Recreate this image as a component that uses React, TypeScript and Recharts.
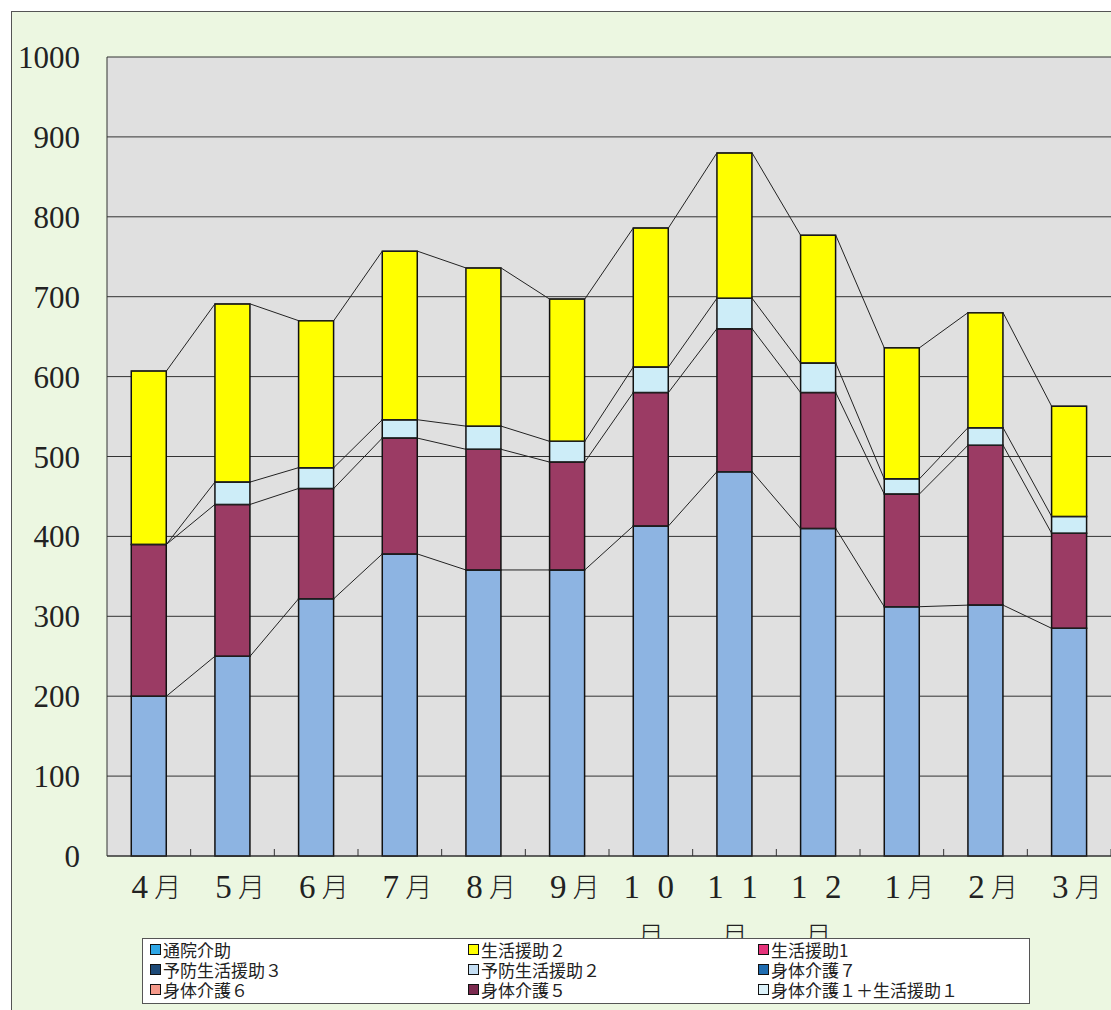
import { Bar, CartesianGrid, ComposedChart, Line, XAxis, YAxis } from "recharts";

const months = ["4月", "5月", "6月", "7月", "8月", "9月", "10月", "11月", "12月", "1月", "2月", "3月"];
const shintai = [200, 250, 322, 378, 358, 358, 413, 481, 410, 312, 314, 285];
const shintai5 = [190, 190, 138, 145, 151, 135, 167, 179, 170, 141, 200, 119];
const shintai1Seikatsu1 = [0, 28, 26, 23, 29, 26, 32, 38, 37, 19, 22, 21];
const seikatsu2 = [217, 223, 184, 211, 198, 178, 174, 182, 160, 164, 144, 138];
const yTicks = [0, 100, 200, 300, 400, 500, 600, 700, 800, 900, 1000];

const legendItems = [
    { name: "通院介助", color: "#2ea6e6" },
    { name: "生活援助２", color: "#ffff00" },
    { name: "生活援助1", color: "#e5327a" },
    { name: "予防生活援助３", color: "#1d4a78" },
    { name: "予防生活援助２", color: "#c4def4" },
    { name: "身体介護７", color: "#1f6cb0" },
    { name: "身体介護６", color: "#f5998a" },
    { name: "身体介護５", color: "#7b2a4f" },
    { name: "身体介護１＋生活援助１", color: "#dcf2fa" },
];

const series = [
    { key: "s1", name: "身体介護", values: shintai, color: "#8db4e2" },
    { key: "s2", name: "身体介護５", values: shintai5, color: "#9b3b64" },
    { key: "s3", name: "身体介護１＋生活援助１", values: shintai1Seikatsu1, color: "#cdedf8" },
    { key: "s4", name: "生活援助２", values: seikatsu2, color: "#ffff00" },
];

const data = months.map((m, i) => {
    const row: Record<string, any> = { month: m };
    series.forEach(s => { row[s.key] = s.values[i]; });
    return row;
});

// series lines: from each bar's top corners to the next bar (half bar width in category units)
const HALF = 0.21;
const seriesLines = series.map((s, k) =>
    months.flatMap((_, i) => {
        const top = series.slice(0, k + 1).reduce((sum, t) => sum + t.values[i], 0);
        return [{ x: i + 0.5 - HALF, y: top }, { x: i + 0.5 + HALF, y: top }];
    })
);

const PLOT_LEFT = 107;
const BAND = (1111 - PLOT_LEFT) / 12;
const SERIF = "'Liberation Serif', 'DejaVu Serif', serif";
const CJK = "'Noto Sans CJK JP', sans-serif";

function MonthTick(props: any) {
    const { x, y, payload } = props;
    const v: string = payload.value;
    const num = v.replace("月", "");
    return (
        <g>
            <line x1={x + BAND / 2} x2={x + BAND / 2} y1={y} y2={y - 7} stroke="#333" />
            {num.length === 1 ? (
                <g>
                    <text x={x - 9} y={y + 42} textAnchor="middle" fill="#222" style={{ fontFamily: SERIF, fontSize: 33 }}>{num}</text>
                    <text x={x + 19} y={y + 41} textAnchor="middle" fill="#222" style={{ fontFamily: CJK, fontSize: 27, fontWeight: 300 }}>月</text>
                </g>
            ) : (
                <g>
                    <text x={x - 19} y={y + 42} textAnchor="middle" fill="#222" style={{ fontFamily: SERIF, fontSize: 33 }}>{num[0]}</text>
                    <text x={x + 15} y={y + 42} textAnchor="middle" fill="#222" style={{ fontFamily: SERIF, fontSize: 33 }}>{num[1]}</text>
                    <text x={x} y={y + 90} textAnchor="middle" fill="#222" style={{ fontFamily: CJK, fontSize: 27, fontWeight: 300 }}>月</text>
                </g>
            )}
        </g>
    );
}

export default function App() {
    return (
        <div style={{ position: "absolute", left: 0, top: 0, width: 1111, height: 1010, background: "#fff", overflow: "hidden" }}>
            <div style={{ position: "absolute", left: 11, top: 11, width: 1120, height: 1020, background: "#ecf7e1", border: "1px solid #555" }} />
            <div style={{ position: "absolute", left: 0, top: 0 }}>
                <ComposedChart width={1111} height={1010} data={data} margin={{ top: 57, right: 0, left: 10, bottom: 94 }} barCategoryGap="29%">
                    <CartesianGrid vertical={false} fill="#e0e0e0" stroke="#333" fillOpacity={1} />
                    <XAxis dataKey="month" height={60} axisLine={{ stroke: "#333" }} tickLine={false} tickSize={0} tickMargin={0} tick={<MonthTick />} interval={0} />
                    <XAxis xAxisId="n" type="number" dataKey="x" domain={[0, 12]} allowDataOverflow hide />
                    <YAxis domain={[0, 1000]} ticks={yTicks} width={97} interval={0} tickLine={false} tickSize={0} tickMargin={27}
                        axisLine={{ stroke: "#333" }}
                        tick={{ fontSize: 31, fill: "#222", fontFamily: SERIF }} />
                    {series.map(s => (
                        <Bar key={s.key} dataKey={s.key} name={s.name} stackId="a" fill={s.color} stroke="#111" strokeWidth={1.5} isAnimationActive={false} />
                    ))}
                    {seriesLines.map((pts, k) => (
                        <Line key={k} xAxisId="n" data={pts} dataKey="y" type="linear" stroke="#222" strokeWidth={1} dot={false} activeDot={false} isAnimationActive={false} legendType="none" />
                    ))}
                </ComposedChart>
            </div>
            <div style={{ position: "absolute", left: 142, top: 938, width: 888, height: 66, background: "#fff", border: "1px solid #555", boxSizing: "border-box" }}>
                {legendItems.map((item, i) => (
                    <div key={item.name} style={{
                        position: "absolute", left: [7, 325, 615][i % 3], top: 1 + Math.floor(i / 3) * 20,
                        display: "flex", alignItems: "center", fontFamily: CJK, fontSize: 17, lineHeight: "19px", color: "#222", whiteSpace: "nowrap"
                    }}>
                        <span style={{ display: "inline-block", width: 9, height: 9, background: item.color, border: "1.5px solid #111", marginRight: 2 }} />
                        {item.name}
                    </div>
                ))}
            </div>
        </div>
    );
}
